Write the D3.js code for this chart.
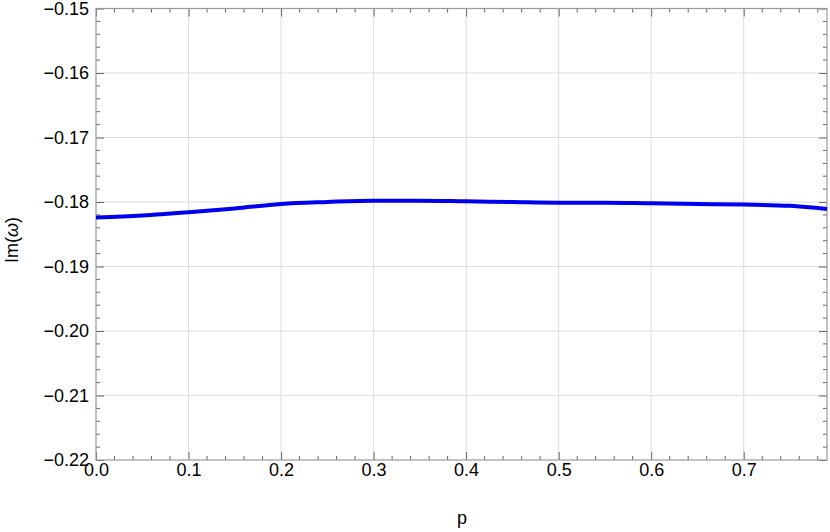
<!DOCTYPE html>
<html>
<head>
<meta charset="utf-8">
<script src="https://cdn.jsdelivr.net/npm/d3@7"></script>
<style>
  body { margin: 0; background: #fff; }
  text { font-family: "Liberation Sans", Arial, sans-serif; fill: #000; }
</style>
</head>
<body>
<svg id="chart"></svg>
<script>
// values
const pValues = [0.0, 0.05, 0.1, 0.15, 0.2, 0.25, 0.3, 0.35, 0.4, 0.45, 0.5, 0.55, 0.6, 0.65, 0.7, 0.75, 0.79];
const imOmega = [-0.1824, -0.1821, -0.1816, -0.1810, -0.1803, -0.1800, -0.1798, -0.1798, -0.1799, -0.1800, -0.1801, -0.1801, -0.1802, -0.1803, -0.1804, -0.1806, -0.1811];
const xTicks = [0.0, 0.1, 0.2, 0.3, 0.4, 0.5, 0.6, 0.7];
const yTicks = [-0.22, -0.21, -0.20, -0.19, -0.18, -0.17, -0.16, -0.15];

const W = 830, H = 532;
const margin = {top: 8.5, right: 3, bottom: 72, left: 96};
const width = W - margin.left - margin.right;
const height = H - margin.top - margin.bottom;

const svg = d3.select('#chart').attr('width', W).attr('height', H);
const g = svg.append('g').attr('transform', `translate(${margin.left},${margin.top})`);

const x = d3.scaleLinear().domain([0, 0.79]).range([0, width]);
const y = d3.scaleLinear().domain([-0.22, -0.15]).range([height, 0]);

// grid
g.append('g').selectAll('line').data(xTicks.slice(1)).join('line')
  .attr('x1', d => x(d)).attr('x2', d => x(d)).attr('y1', 0).attr('y2', height)
  .attr('stroke', '#dcdcdc').attr('stroke-width', 1);
g.append('g').selectAll('line').data(yTicks.slice(1, -1)).join('line')
  .attr('y1', d => y(d)).attr('y2', d => y(d)).attr('x1', 0).attr('x2', width)
  .attr('stroke', '#dcdcdc').attr('stroke-width', 1);

// minor ticks every 0.02 on x, 0.002 on y
const xMinor = d3.range(0, 0.791, 0.02).map(v => +v.toFixed(3)).filter(v => Math.round(v * 100) % 10 !== 0);
const yMinor = d3.range(-0.22, -0.1499, 0.002).map(v => +v.toFixed(4)).filter(v => Math.round(v * 1000) % 10 !== 0);

const fmtMinus = f => v => f(v).replace('-', '\u2212');

const xAxisB = d3.axisBottom(x).tickValues(xTicks).tickFormat(d3.format('.1f')).tickSize(8);
const xAxisT = d3.axisTop(x).tickValues(xTicks).tickFormat('').tickSize(8);
const yAxisL = d3.axisLeft(y).tickValues(yTicks).tickFormat(fmtMinus(d3.format('.2f'))).tickSize(8);
const yAxisR = d3.axisRight(y).tickValues(yTicks).tickFormat('').tickSize(8);

function styleAxis(sel) {
  sel.select('.domain').remove();
  sel.selectAll('.tick line').attr('stroke', '#666');
  sel.selectAll('.tick text').style('font-size', '18px').attr('fill', '#000');
}

const xb = g.append('g').attr('transform', `translate(0,${height})`).call(xAxisB).call(styleAxis);
xb.selectAll('.tick line').attr('y2', -8);
xb.selectAll('.tick text').attr('y', 3);
g.append('g').call(xAxisT).call(styleAxis)
  .selectAll('.tick line').attr('y2', 8);
const yl0 = g.append('g').call(yAxisL).call(styleAxis);
yl0.selectAll('.tick line').attr('x2', 8);
yl0.selectAll('.tick text').attr('x', -7);
g.append('g').attr('transform', `translate(${width},0)`).call(yAxisR).call(styleAxis)
  .selectAll('.tick line').attr('x2', -8);

// minor ticks
const minor = g.append('g').attr('stroke', '#666').attr('stroke-width', 1);
xMinor.forEach(v => {
  minor.append('line').attr('x1', x(v)).attr('x2', x(v)).attr('y1', height).attr('y2', height - 4);
  minor.append('line').attr('x1', x(v)).attr('x2', x(v)).attr('y1', 0).attr('y2', 4);
});
yMinor.forEach(v => {
  minor.append('line').attr('y1', y(v)).attr('y2', y(v)).attr('x1', 0).attr('x2', 4);
  minor.append('line').attr('y1', y(v)).attr('y2', y(v)).attr('x1', width).attr('x2', width - 4);
});

// frame
g.append('rect').attr('x', 0).attr('y', 0).attr('width', width).attr('height', height)
  .attr('fill', 'none').attr('stroke', '#999').attr('stroke-width', 1.2);

// curve
const line = d3.line().x((d, i) => x(pValues[i])).y(d => y(d)).curve(d3.curveMonotoneX);
g.append('path').datum(imOmega)
  .attr('d', line)
  .attr('fill', 'none').attr('stroke', '#0000ee').attr('stroke-width', 4)
  .attr('stroke-linejoin', 'round');

// axis titles
svg.append('text').attr('x', 462).attr('y', 524).attr('text-anchor', 'middle')
  .style('font-size', '18px').text('p');

const yl = svg.append('text').attr('transform', 'translate(18,240) rotate(-90)')
  .attr('text-anchor', 'middle').style('font-size', '18px');
yl.append('tspan').text('Im(');
yl.append('tspan').style('font-style', 'italic').text('\u03c9');
yl.append('tspan').text(')');
</script>
</body>
</html>
